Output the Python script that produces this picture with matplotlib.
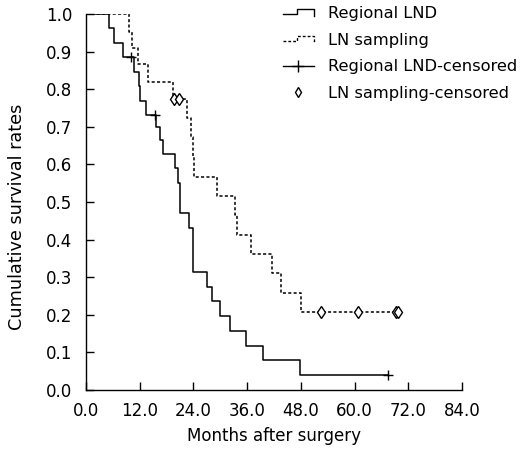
import matplotlib
matplotlib.use("Agg")
import matplotlib.pyplot as plt
from matplotlib.lines import Line2D
from matplotlib.legend_handler import HandlerBase
import numpy as np

# Regional LND (solid) Kaplan-Meier steps
lnd_times = [0, 5.1, 6.3, 8.3, 10.7, 11.8, 12.1, 13.4, 15.6, 16.6, 17.1, 19.8, 20.6, 20.9,
             22.9, 23.8, 24.0, 27.0, 28.2, 29.9, 32.2, 35.7, 39.6, 47.9, 67.4]
lnd_surv = [1.0, 0.962, 0.923, 0.885, 0.846, 0.808, 0.769, 0.731, 0.700, 0.664, 0.628, 0.590,
            0.550, 0.470, 0.430, 0.353, 0.315, 0.275, 0.236, 0.197, 0.157, 0.118, 0.079, 0.039, 0.039]
lnd_cens_t = [10.1, 15.4, 67.4]
lnd_cens_s = [0.885, 0.731, 0.039]

# LN sampling (dotted)
lns_times = [0, 9.5, 10.2, 11.7, 13.9, 19.4, 22.5, 23.5, 24.0, 24.2, 29.2, 33.2, 33.7,
             36.9, 41.5, 43.5, 48.0, 69.8]
lns_surv = [1.0, 0.953, 0.910, 0.866, 0.820, 0.774, 0.723, 0.672, 0.619, 0.567, 0.516,
            0.465, 0.413, 0.361, 0.310, 0.258, 0.207, 0.207]
lns_cens_t = [19.7, 20.8, 52.4, 60.7, 69.3, 69.8]
lns_cens_s = [0.774, 0.774, 0.207, 0.207, 0.207, 0.207]

x_ticks = [0, 12, 24, 36, 48, 60, 72, 84]
y_ticks = [0.0, 0.1, 0.2, 0.3, 0.4, 0.5, 0.6, 0.7, 0.8, 0.9, 1.0]

plt.rcParams['font.family'] = ['DejaVu Sans']
FS = 12
LFS = 11.7
DOT = (0, (2, 1.5))

fig = plt.figure(figsize=(5.2, 4.5), dpi=100)
ax = fig.add_axes([86/520, 1-390/450, (462-86)/520, (390-14)/450])

ax.step(lnd_times, lnd_surv, where='post', color='black', lw=1.1)
ax.step(lns_times, lns_surv, where='post', color='black', lw=1.1, linestyle=DOT)
ax.plot(lnd_cens_t, lnd_cens_s, linestyle='none', marker='+', ms=7, mew=1.0, color='black')
ax.plot(lns_cens_t, lns_cens_s, linestyle='none', marker='d', ms=6.5, mew=1.0,
        markerfacecolor='white', markeredgecolor='black')

ax.set_xlim(0, 84)
ax.set_ylim(0, 1.0)
ax.set_xticks(x_ticks)
ax.set_xticklabels([f"{v:.1f}" for v in x_ticks])
ax.set_yticks(y_ticks)
ax.set_yticklabels([f"{v:.1f}" for v in y_ticks])
ax.tick_params(direction='in', length=6, width=1, labelsize=FS)
ax.tick_params(axis='x', pad=8.5)
ax.tick_params(axis='y', pad=10)
for s in ['top', 'right']:
    ax.spines[s].set_visible(False)
for s in ['left', 'bottom']:
    ax.spines[s].set_linewidth(1)
ax.set_xlabel("Months after surgery", fontsize=FS, labelpad=5.5)
ax.set_ylabel("Cumulative survival rates", fontsize=12.7)
ax.yaxis.set_label_coords((26-86)/376, (390-217)/376)


class StepHandler(HandlerBase):
    def __init__(self, ls):
        super().__init__()
        self.ls = ls

    def create_artists(self, legend, orig_handle, xdescent, ydescent, width, height, fontsize, trans):
        x0 = -xdescent
        y0 = -ydescent
        xs = [x0, x0 + 0.45*width, x0 + 0.45*width, x0 + width, x0 + width]
        ys = [y0 + 0.35*height, y0 + 0.35*height, y0 + 0.75*height, y0 + 0.75*height, y0 + 0.2*height]
        ln = Line2D(xs, ys, color='black', lw=1.0, linestyle=self.ls, transform=trans)
        return [ln]


h1 = Line2D([], [], color='black')
h2 = Line2D([], [], color='black', linestyle=DOT)
h3 = Line2D([], [], color='black', marker='+', ms=8, lw=1.0)
h4 = Line2D([], [], color='black', marker='d', ms=5.5, linestyle='none', markerfacecolor='white')
leg = fig.legend([h1, h2, h3, h4],
                 ["Regional LND", "LN sampling", "Regional LND-censored", "LN sampling-censored"],
                 loc='upper left', bbox_to_anchor=(283/520, 1-6/450), frameon=False,
                 fontsize=LFS, handlelength=1.9, handletextpad=0.9, labelspacing=0.72,
                 borderpad=0, borderaxespad=0,
                 handler_map={h1: StepHandler('-'), h2: StepHandler(DOT)})

fig.savefig("out.png", dpi=100)
